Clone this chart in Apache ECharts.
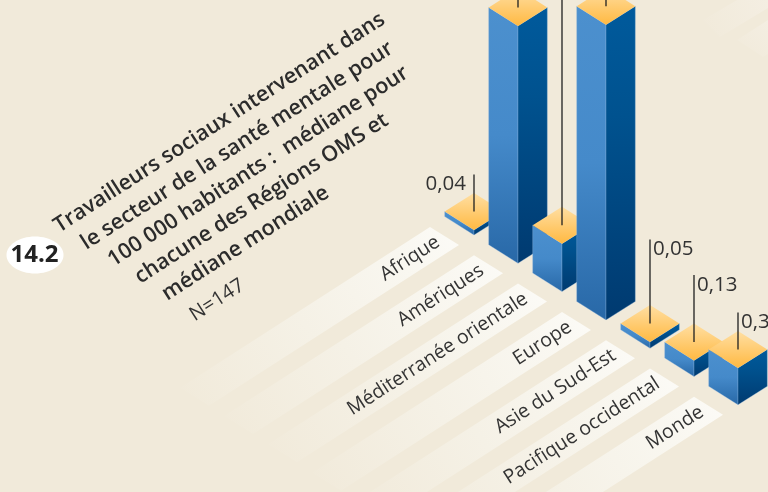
<!DOCTYPE html>
<html>
<head>
<meta charset="utf-8">
<style>html,body{margin:0;padding:0;background:#F1EADA}#c{width:768px;height:492px}</style>
<script src="https://cdn.jsdelivr.net/npm/echarts@6/dist/echarts.min.js"></script>
</head>
<body>
<div id="c"></div>
<script>
const categories = ['Afrique','Amériques','Méditerranée orientale','Europe','Asie du Sud-Est','Pacifique occidental','Monde'];
const values = [0.04, 1.93, 0.39, 2.4, 0.05, 0.13, 0.3];
const valueLabels = ['0,04', '1,93', '0,39', '2,40', '0,05', '0,13', '0,30'];
const titleLines = ['Travailleurs sociaux intervenant dans','le secteur de la santé mentale pour','100 000 habitants :  médiane pour','chacune des Régions OMS et','médiane mondiale'];
const sampleNote = 'N=147';
const figureNumber = '14.2';

// projection and styling constants
const ISO_DY = 28.3, BASE_SHIFT = -134, HW = 29.3, HH = 18.5, ANGLE = Math.atan(0.643);
const BAND_LEN = 250;
const leaderRise = [37, 60, 300, 60, 84, 67, 37];
const FONT = '"Open Sans","Noto Sans",sans-serif';
const TEXT = '#333333';
const G = echarts.graphic;
const vgrad = (stops) => new G.LinearGradient(0,0,0,1,stops.map(s=>({offset:s[0],color:s[1]})));
const leftFill = () => vgrad([[0,'#4C90CE'],[0.5,'#458ACA'],[1,'#2868A7']]);
const rightFill = () => vgrad([[0,'#005A9C'],[0.35,'#00528F'],[1,'#003A70']]);
const topFill = () => vgrad([[0,'#FFDFA3'],[1,'#FFB942']]);
const edge = {stroke:'rgba(150,185,220,0.55)', lineWidth:0.6};

function renderBand(params, api){
  const i = api.value(0);
  const p = api.coord([i,0]);
  const cx = p[0], cy = p[1] + BASE_SHIFT + i*ISO_DY;   // front corner of the bar foot
  const tx = cx-44, ty = cy-8;                          // top corner of the band's head
  const rx = cx-15, ry = cy+10;                         // right corner of the band's head
  const bx = BAND_LEN, by = BAND_LEN*0.643;
  return {type:'group', children:[
    {type:'polygon', shape:{points:[[tx,ty],[rx,ry],[rx-bx,ry+by],[tx-bx,ty+by]]},
     style:{fill:new G.LinearGradient(1,0,0,1,[
       {offset:0,color:'#FCFBF7'},{offset:0.2,color:'#F9F7F0'},{offset:0.55,color:'#F5F1E6'},{offset:1,color:'#F1EADA'}])}},
    {type:'text', x:cx-36, y:cy+5.5, rotation:ANGLE,
     style:{text:categories[i], font:'400 19.5px '+FONT, fill:TEXT, align:'right', verticalAlign:'middle'}}
  ]};
}

function renderBar(params, api){
  const i = api.value(0);
  const foot = api.coord([i,0]);
  const head = api.coord([i,api.value(1)]);
  const s = BASE_SHIFT + i*ISO_DY;
  const x = foot[0], y0 = foot[1]+s, y1 = head[1]+s;
  const kids = [
    {type:'polygon', shape:{points:[[x-HW,y1-HH],[x,y1],[x,y0],[x-HW,y0-HH]]}, style:Object.assign({fill:leftFill()},edge)},
    {type:'polygon', shape:{points:[[x,y1],[x+HW,y1-HH],[x+HW,y0-HH],[x,y0]]}, style:Object.assign({fill:rightFill()},edge)},
    {type:'polygon', shape:{points:[[x-HW,y1-HH],[x,y1-2*HH],[x+HW,y1-HH],[x,y1]]}, style:{fill:topFill()}},
    {type:'line', shape:{x1:x,y1:y1-HH,x2:x,y2:y1-HH-leaderRise[i]}, style:{stroke:'#1f1f1f',lineWidth:1.3}}
  ];
  const onLeft = i===0;
  kids.push({type:'text', x:onLeft? x-8 : x+3, y:y1-HH-leaderRise[i]+10,
    style:{text:valueLabels[i], font:'400 20.5px '+FONT, fill:TEXT, align:onLeft?'right':'left', verticalAlign:'middle'}});
  return {type:'group', children:kids};
}

const titleGraphics = titleLines.map((t,k)=>({type:'text', x:62+27*k, y:237+17*k, rotation:ANGLE, z:10,
  style:{text:t, font:'600 21.5px '+FONT, fill:'#2b2b2b', align:'left', verticalAlign:'bottom'}}));

const faint = (pts)=>({type:'polygon', z:0, shape:{points:pts},
  style:{fill:new G.LinearGradient(1,0,0,1,[{offset:0,color:'#F4EEE2'},{offset:1,color:'#F1EADA'}])}});

const chart = echarts.init(document.getElementById('c'), null, {renderer:'canvas'});
chart.setOption({
  animation:false,
  backgroundColor:'#F1EADA',
  grid:{left:452, width:308, top:0, height:369},
  xAxis:{type:'category', data:categories, show:false},
  yAxis:{type:'value', min:0, max:3, show:false},
  graphic:[
    faint([[737,0],[768,0],[768,8],[720,37],[703,20]]),
    faint([[768,20],[737,40],[763,57],[768,54]]),
    {type:'ellipse', z:10, shape:{cx:35,cy:255,rx:28.5,ry:18.5}, style:{fill:'#fff'}},
    {type:'text', z:11, x:34.5, y:255.5, style:{text:figureNumber, font:'700 24px '+FONT, fill:'#222', align:'center', verticalAlign:'middle'}},
    ...titleGraphics,
    {type:'text', z:10, x:197, y:325, rotation:ANGLE, style:{text:sampleNote, font:'400 20px '+FONT, fill:TEXT, align:'left', verticalAlign:'bottom'}}
  ],
  series:[
    {type:'custom', z:1, silent:true, clip:false, renderItem:renderBand, data:values.map((v,i)=>[i,v]), encode:{x:0,y:1}},
    {type:'custom', z:2, silent:true, clip:false, renderItem:renderBar, data:values.map((v,i)=>[i,v]), encode:{x:0,y:1}}
  ]
});
</script>
</body>
</html>
